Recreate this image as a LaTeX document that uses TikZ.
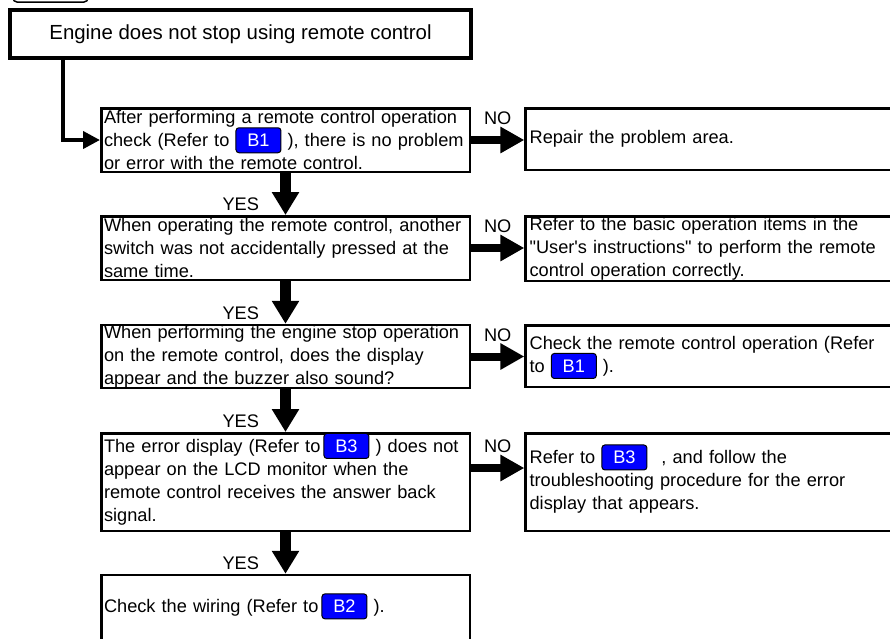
\documentclass[tikz,border=0pt]{standalone}
\usepackage{fontspec}
\setmainfont{Liberation Sans}[Ligatures=TeXOff]
\usepackage{tikz}
\usetikzlibrary{arrows.meta,positioning}
\newcommand{\bodyfont}{\fontsize{18.2}{23}\selectfont}
\newcommand{\titlefont}{\fontsize{20.4}{24}\selectfont}
\tikzstyle{titlebox} = [draw,line width=4pt,minimum width=461pt,minimum height=48pt,font=\titlefont]
\tikzstyle{check}    = [draw,line width=2.5pt,text width=363pt,inner xsep=2.75pt,inner ysep=0pt,align=left,font=\bodyfont]
\tikzstyle{answer}   = [draw,line width=2.5pt,text width=376pt,inner xsep=4pt,inner ysep=0pt,align=left,font=\bodyfont]
\tikzstyle{badge}    = [draw=black,line width=1pt,fill=blue,text=white,rounded corners=3pt,text width=30pt,align=center,
                        minimum width=45pt,minimum height=25pt,inner sep=0pt,outer sep=0pt,anchor=center,font=\bodyfont]
\tikzstyle{feed}     = [line width=4pt,-{Triangle[length=17pt,width=17pt]}]
\tikzstyle{yesarrow} = [line width=11pt,-{Triangle[length=23pt,width=26pt]}]
\tikzstyle{noarrow}  = [line width=8pt,-{Triangle[length=24pt,width=25pt]}]
\tikzstyle{yeslabel} = [anchor=south east,inner sep=0pt,outer sep=0pt,xshift=-26.5pt,yshift=4pt,font=\bodyfont]
\tikzstyle{nolabel}  = [above=15pt,inner sep=0pt,outer sep=0pt,font=\bodyfont]
\newcommand{\refbadge}[1]{\smash{\tikz[baseline=(b.base)]\node (b) [badge] {#1};}}

\begin{document}
\begin{tikzpicture}[x=1pt,y=-1pt]
  \useasboundingbox (0,0) rectangle (890,638);
  % header tab
  \draw[rounded corners=4pt,line width=1.5pt] (13,-20) rectangle (88,2);
  \node[titlebox] (start) at (240.5,34) {Engine does not stop using remote control};

  % checks
  \node[check,minimum height=63.5pt] (q1) at (285.5,140)
    {After performing a remote control operation\\check (Refer to \refbadge{B1} ), there is no problem\\or error with the remote control.};
  \node[check,minimum height=63.5pt] (q2) at (285.5,248)
    {When operating the remote control, another\\switch was not accidentally pressed at the\\same time.};
  \node[check,minimum height=62.5pt] (q3) at (285.5,356.5)
    {When performing the engine stop operation\\on the remote control, does the display\\appear and the buzzer also sound?};
  \node[check,minimum height=97.5pt] (q4) at (285.5,482)
    {The error display (Refer to\,\refbadge{B3} ) does not\\appear on the LCD monitor when the\\remote control receives the answer back\\signal.};
  \node[check,minimum height=66pt] (q5) at (285.5,608)
    {Check the wiring (Refer to\,\refbadge{B2} ).};

  % answers
  \node[answer,minimum height=61.5pt] (a1) at (717.6,139) {Repair the problem area.};
  \node[answer,minimum height=64.5pt] (a2) at (717.6,248.5)
    {Refer to the basic operation items in the\\"User's instructions" to perform the remote\\control operation correctly.};
  \node[answer,minimum height=61.5pt] (a3) at (717.6,356)
    {Check the remote control operation (Refer\\to \refbadge{B1} ).};
  \node[answer,minimum height=97.5pt] (a4) at (717.6,482)
    {Refer to \refbadge{B3}\hspace{8pt} , and follow the\\troubleshooting procedure for the error\\display that appears.};

  % flow
  \draw[feed] ([xshift=-178pt]start.south) |- (q1.west);
  \foreach \a/\b in {q1/q2,q2/q3,q3/q4,q4/q5}
    \draw[yesarrow] (\a) -- node[yeslabel,pos=1] {YES} (\b);
  \foreach \a/\b in {q1/a1,q2/a2,q3/a3}
    \draw[noarrow] (\a.east) -- node[nolabel] {NO} (\a.east -| \b.west);
  \draw[noarrow] ([yshift=14pt]q4.east) -- node[nolabel] {NO} ([yshift=14pt]q4.east -| a4.west);
\end{tikzpicture}
\end{document}
